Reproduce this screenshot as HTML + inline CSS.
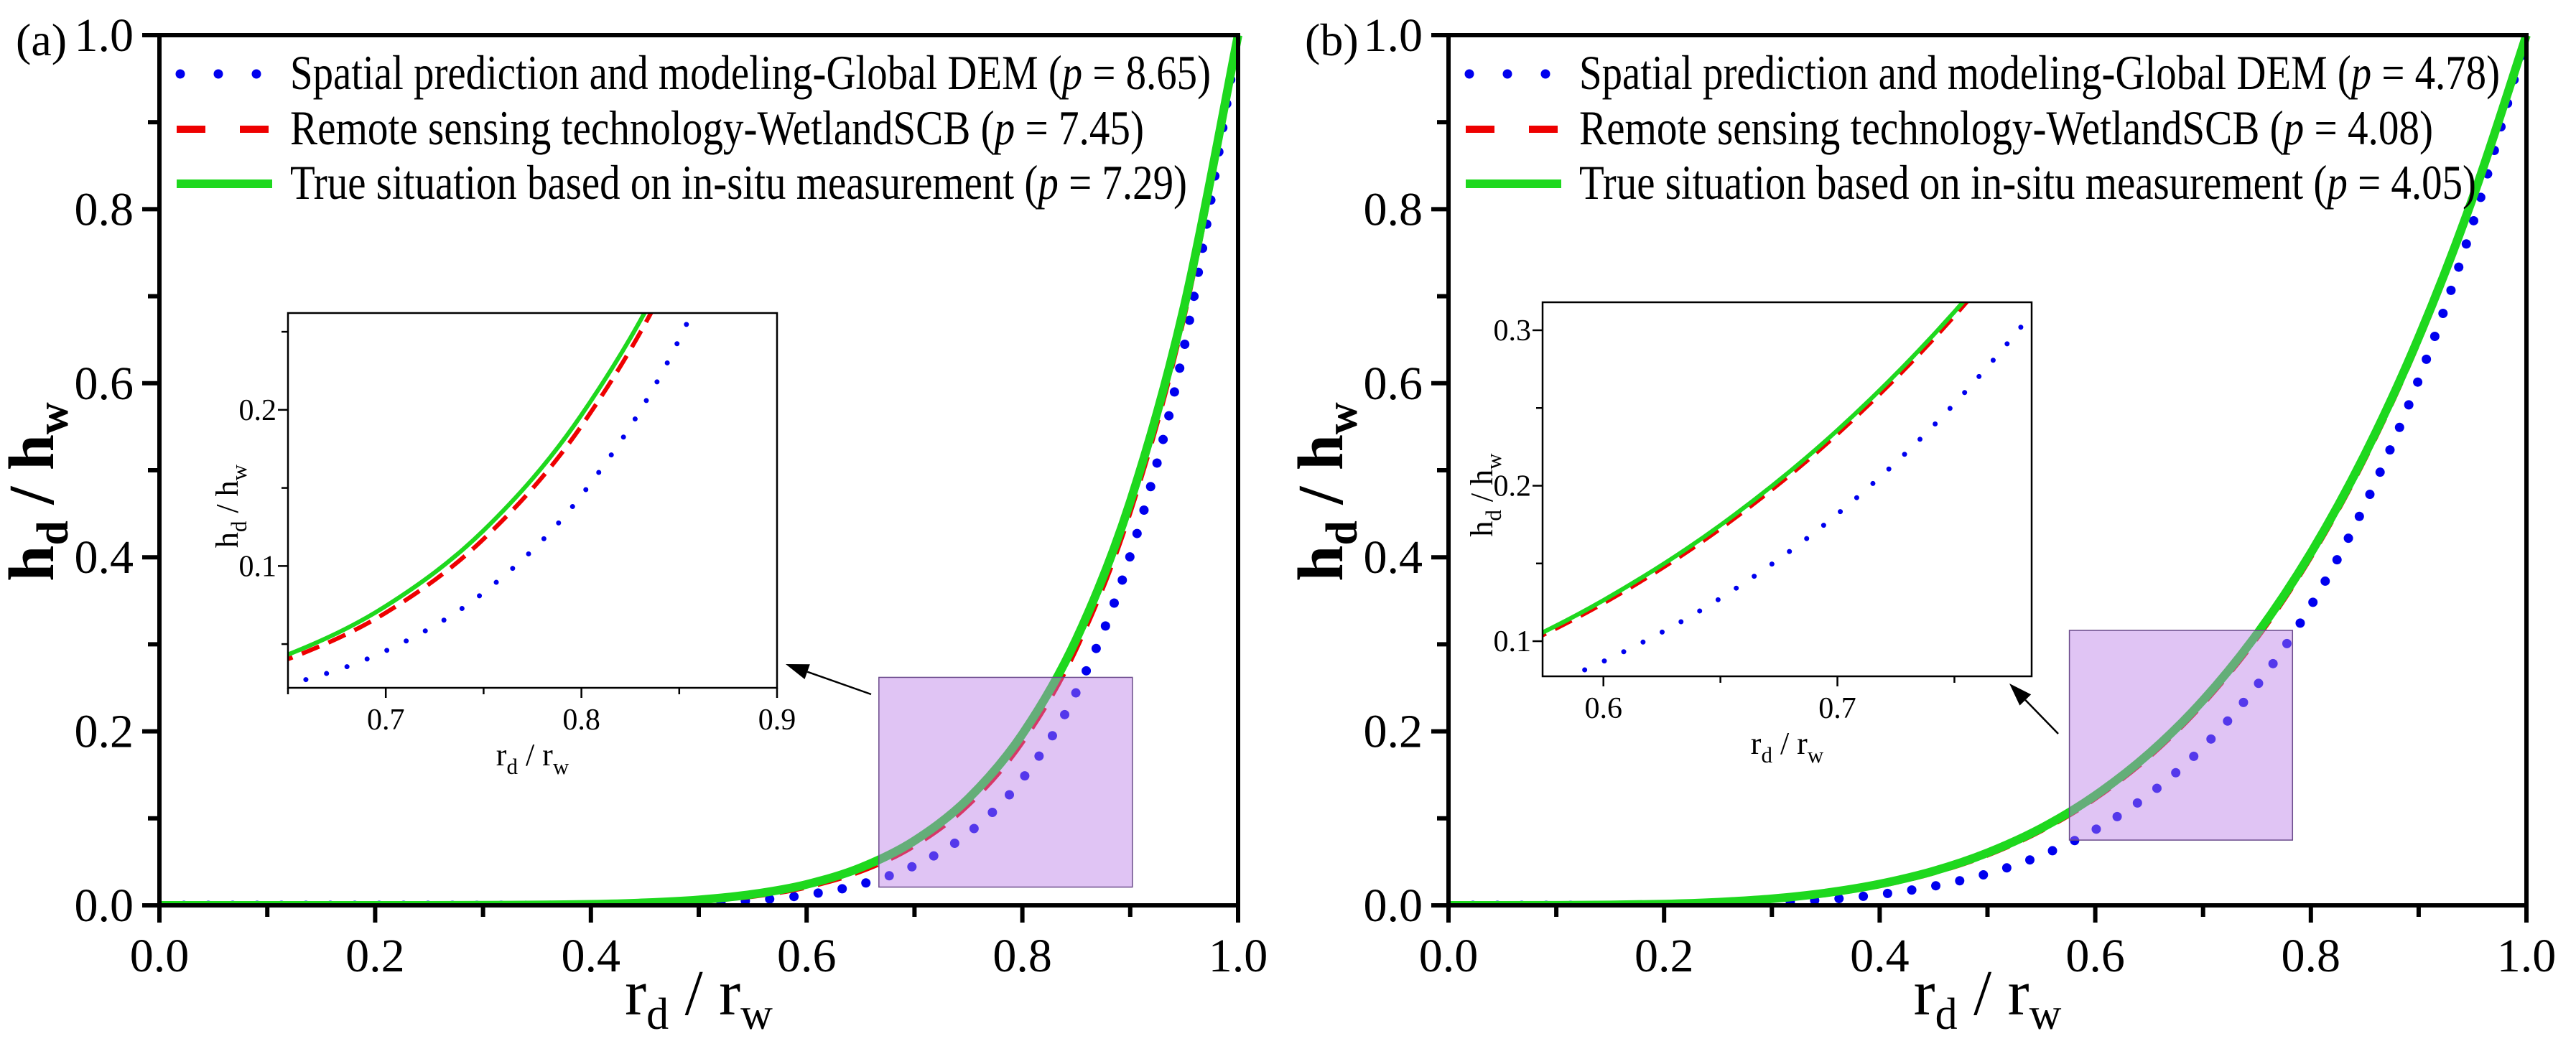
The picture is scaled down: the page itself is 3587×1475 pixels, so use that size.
<!DOCTYPE html>
<html><head><meta charset="utf-8"><style>
html,body{margin:0;padding:0;background:#fff;}
svg{display:block;font-family:"Liberation Serif",serif;}
</style></head><body>
<svg id="fig" width="3587" height="1475" viewBox="0 0 3587 1475"></svg>
<script>
const xs=[0,0.05,0.1,0.15,0.2,0.25,0.3,0.35,0.4,0.45,0.5,0.55,0.6,0.65,0.7,0.75,0.8,0.85,0.9,0.95,1];
const aBlue=[0,0,0,0,0,0,0.00003,0.00011,0.00036,0.0010,0.0025,0.0057,0.0121,0.0241,0.0457,0.0830,0.1452,0.2452,0.4018,0.6415,1];
const aRed=[0,0,0,0,0,0,0.000127,0.0004,0.00108,0.00261,0.00572,0.01163,0.02226,0.0404,0.0701,0.1173,0.1897,0.2980,0.4561,0.6825,1];
const aGreen=[0,0,0,0,0,0,0.000154,0.000474,0.00125,0.00297,0.00639,0.0128,0.0241,0.0433,0.0743,0.1228,0.1967,0.3058,0.4638,0.6880,1];
const bBlue=[0,0,0.000017,0.000115,0.00046,0.00132,0.00317,0.00662,0.01253,0.0220,0.0364,0.0574,0.0870,0.1276,0.1818,0.2528,0.3443,0.4598,0.6041,0.7826,1];
const bRed=[0,0,0.000083,0.000435,0.00141,0.0035,0.00736,0.0138,0.0238,0.0385,0.0591,0.0873,0.1244,0.1724,0.2333,0.3092,0.4025,0.5153,0.6505,0.8113,1];
const bGreen=[0,0,0.000089,0.00046,0.00148,0.00364,0.00763,0.01424,0.0245,0.0394,0.0604,0.0888,0.1263,0.1746,0.2357,0.3119,0.4050,0.5178,0.6526,0.8122,1];
const mainTicks=["0.0","0.2","0.4","0.6","0.8","1.0"];
const aLegend=["Spatial prediction and modeling-Global DEM (","Remote sensing technology-WetlandSCB (","True situation based on in-situ measurement ("];
const aP=["8.65","7.45","7.29"];
const bP=["4.78","4.08","4.05"];
const insetATicksX=["0.7","0.8","0.9"], insetATicksY=["0.1","0.2"];
const insetBTicksX=["0.6","0.7"], insetBTicksY=["0.1","0.2","0.3"];

const NS="http://www.w3.org/2000/svg";
const svg=document.getElementById('fig');
function el(tag,attrs,parent){const e=document.createElementNS(NS,tag);for(const k in attrs)e.setAttribute(k,attrs[k]);(parent||svg).appendChild(e);return e;}
function crPath(pts){let d="M"+pts[0][0].toFixed(1)+","+pts[0][1].toFixed(1);
 for(let i=0;i<pts.length-1;i++){const p0=pts[Math.max(0,i-1)],p1=pts[i],p2=pts[i+1],p3=pts[Math.min(pts.length-1,i+2)];
  const c1=[p1[0]+(p2[0]-p0[0])/6,p1[1]+(p2[1]-p0[1])/6],c2=[p2[0]-(p3[0]-p1[0])/6,p2[1]-(p3[1]-p1[1])/6];
  d+=" C"+c1[0].toFixed(1)+","+c1[1].toFixed(1)+" "+c2[0].toFixed(1)+","+c2[1].toFixed(1)+" "+p2[0].toFixed(1)+","+p2[1].toFixed(1);}
 return d;}

const legendLens=[1282,1189,1249];

function panel(id,L,R,T,B,blue,red,green,pvals,label,inset,rect,arrow){
 const g=el('g',{});
 
 
 const X=v=>L+(R-L)*v, Y=v=>B-(B-T)*v;
 const cid='clip'+id;
 const cp=el('clipPath',{id:cid},g);el('rect',{x:L,y:T-6,width:R-L+8,height:B-T+6},cp);
 const series=[[blue,'#0000ee','0 34',13,'blue-series'],[red,'#ee0000','34 20',10,'red-series'],[green,'#1ed81e','',12,'green-series']];
 series.forEach(s=>{const pts=xs.map((x,i)=>[X(x),Y(s[0][i])]);
  const p=el('path',{d:crPath(pts),fill:'none',stroke:s[1],'stroke-width':s[3],'stroke-dasharray':s[2],'stroke-linecap':s[2]==='0 34'?'round':'butt','clip-path':'url(#'+cid+')'},g);
  
  });
 const rr=el('rect',{x:X(rect[0]),y:Y(rect[3]),width:X(rect[1])-X(rect[0]),height:Y(rect[2])-Y(rect[3]),fill:'rgba(186,124,231,0.45)',stroke:'#6a4a8a','stroke-width':1.5},g);
 
 
 el('rect',{x:L,y:T,width:R-L,height:B-T,fill:'none',stroke:'#000','stroke-width':6},g);
 for(let i=0;i<=10;i++){const v=i/10,len=i%2===0?24:16;
  el('line',{x1:X(v),y1:B,x2:X(v),y2:B+len,stroke:'#000','stroke-width':6},g);
  el('line',{x1:L,y1:Y(v),x2:L-len,y2:Y(v),stroke:'#000','stroke-width':6},g);}
 mainTicks.forEach((t,i)=>{const v=i/5;
  const a=el('text',{x:X(v),y:B+92,'text-anchor':'middle','font-size':66},g);a.textContent=t;
  
  const b=el('text',{x:L-36,y:Y(v)+22,'text-anchor':'end','font-size':66},g);b.textContent=t;
  });
 const xt=el('text',{x:(L+R)/2,y:B+152,'text-anchor':'middle','font-size':90},g);
 
 xt.innerHTML='r<tspan font-size="62" dy="20">d</tspan><tspan dy="-20"> / r</tspan><tspan font-size="62" dy="20">w</tspan>';
 const yt=el('text',{x:0,y:0,'text-anchor':'middle','font-size':90,'font-weight':'bold',transform:'translate('+(L-148)+','+((T+B)/2+30)+') rotate(-90)'},g);
 
 yt.innerHTML='h<tspan font-size="62" dy="20">d</tspan><tspan dy="-20"> / h</tspan><tspan font-size="62" dy="20">w</tspan>';
 const pl=el('text',{x:L-200,y:T+28,'font-size':64},g);pl.textContent=label;
 
 const ly=[97,174,250];
 series.forEach((s,i)=>{const lg=el('g',{},g);
  
  el('line',{x1:L+24,y1:T+ly[i]-43,x2:L+157,y2:T+ly[i]-43,stroke:s[1],'stroke-width':s[3],'stroke-dasharray':i===0?'0 53':(i===1?'40 48':''),'stroke-linecap':i===0?'round':'butt',transform:i===0?'translate(5,0)':''},lg);
  const t=el('text',{x:L+182,y:T+ly[i]-22,'font-size':68,textLength:legendLens[i],lengthAdjust:'spacingAndGlyphs'},lg);
  t.innerHTML=aLegend[i]+'<tspan font-style="italic">p</tspan> = '+pvals[i]+')';});
 const ig=el('g',{},g);
 
 const iL=inset.box[0],iR=inset.box[1],iT=inset.box[2],iB=inset.box[3];
 const IX=v=>iL+(iR-iL)*(v-inset.x[0])/(inset.x[1]-inset.x[0]);
 const IY=v=>iB-(iB-iT)*(v-inset.y[0])/(inset.y[1]-inset.y[0]);
 el('rect',{x:iL,y:iT,width:iR-iL,height:iB-iT,fill:'#fff'},ig);
 const icid='iclip'+id;const icp=el('clipPath',{id:icid},ig);el('rect',{x:iL,y:iT,width:iR-iL,height:iB-iT},icp);
 const iser=[[blue,'#0000ee','0 30',7],[red,'#ee0000','26 14',6],[green,'#1ed81e','',6]];
 iser.forEach((s,k)=>{const pts=xs.map((x,i)=>[IX(x),IY(s[0][i])]);
  const p=el('path',{d:crPath(pts),fill:'none',stroke:s[1],'stroke-width':s[3],'stroke-dasharray':s[2],'stroke-linecap':k===0?'round':'butt','clip-path':'url(#'+icid+')'},ig);
  
  });
 el('rect',{x:iL,y:iT,width:iR-iL,height:iB-iT,fill:'none',stroke:'#000','stroke-width':2.5},ig);
 inset.minorX.forEach(v=>el('line',{x1:IX(v),y1:iB,x2:IX(v),y2:iB+9,stroke:'#000','stroke-width':2.5},ig));
 inset.minorY.forEach(v=>el('line',{x1:iL,y1:IY(v),x2:iL-9,y2:IY(v),stroke:'#000','stroke-width':2.5},ig));
 inset.tx.forEach(t=>{const v=parseFloat(t);el('line',{x1:IX(v),y1:iB,x2:IX(v),y2:iB+14,stroke:'#000','stroke-width':2.5},ig);
  const a=el('text',{x:IX(v),y:iB+58,'text-anchor':'middle','font-size':42},ig);a.textContent=t;});
 inset.ty.forEach(t=>{const v=parseFloat(t);el('line',{x1:iL,y1:IY(v),x2:iL-14,y2:IY(v),stroke:'#000','stroke-width':2.5},ig);
  const a=el('text',{x:iL-16,y:IY(v)+14,'text-anchor':'end','font-size':42},ig);a.textContent=t;});
 const ixt=el('text',{x:(iL+iR)/2,y:iB+108,'text-anchor':'middle','font-size':44},ig);
 ixt.innerHTML='r<tspan font-size="31" dy="12">d</tspan><tspan dy="-12"> / r</tspan><tspan font-size="31" dy="12">w</tspan>';
 const iyt=el('text',{x:0,y:0,'text-anchor':'middle','font-size':44,transform:'translate('+(iL-70)+','+((iT+iB)/2+8)+') rotate(-90)'},ig);
 iyt.innerHTML='h<tspan font-size="31" dy="12">d</tspan><tspan dy="-12"> / h</tspan><tspan font-size="31" dy="12">w</tspan>';
 const ag=el('g',{},g);
 
 const [x1,y1,x2,y2]=arrow;const ang=Math.atan2(y2-y1,x2-x1);
 const hx=x2-32*Math.cos(ang),hy=y2-32*Math.sin(ang);
 el('line',{x1:x1,y1:y1,x2:hx,y2:hy,stroke:'#000','stroke-width':2.5},ag);
 const px=-Math.sin(ang)*11,py=Math.cos(ang)*11;
 el('polygon',{points:x2+','+y2+' '+(hx+px)+','+(hy+py)+' '+(hx-px)+','+(hy-py),fill:'#000'},ag);
}
panel('a',222,1724,49,1261,aBlue,aRed,aGreen,aP,'(a)',
 {box:[401,1082,436,958],x:[0.65,0.9],y:[0.022,0.262],tx:insetATicksX,ty:insetATicksY,minorX:[0.65,0.75,0.85],minorY:[0.05,0.15,0.25]},
 [0.667,0.902,0.021,0.262],[1213,967,1094,925]);
panel('b',2017,3518,49,1261,bBlue,bRed,bGreen,bP,'(b)',
 {box:[2148,2829,421,942],x:[0.574,0.783],y:[0.0774,0.318],tx:insetBTicksX,ty:insetBTicksY,minorX:[0.65,0.75],minorY:[0.15,0.25]},
 [0.576,0.783,0.075,0.316],[2866,1022,2798,952]);
</script>
</body></html>
